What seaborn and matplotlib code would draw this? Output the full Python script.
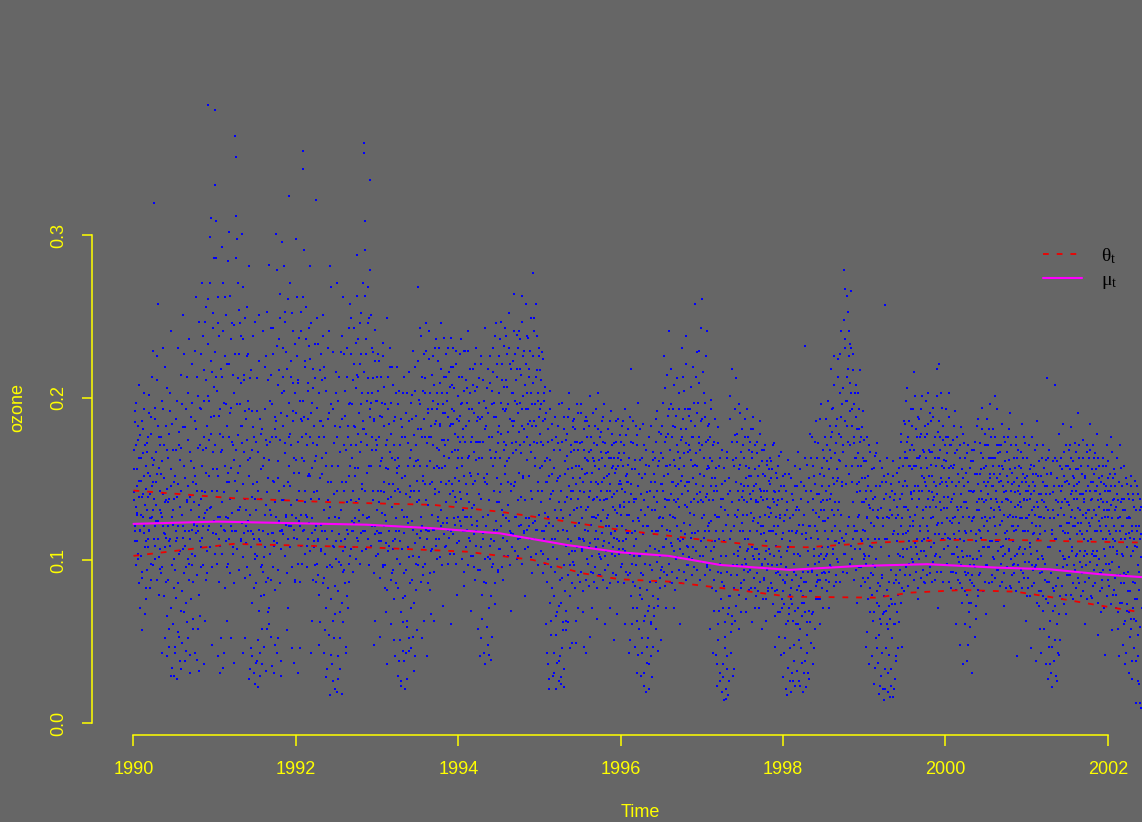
import numpy as np
import pandas as pd
import seaborn as sns
import matplotlib.pyplot as plt

sns.set_theme(style='ticks')
bg = '#666666'
yel = '#FFFF00'
plt.rcParams['font.family'] = ['Liberation Sans', 'DejaVu Sans']
plt.rcParams['mathtext.fontset'] = 'custom'
plt.rcParams['mathtext.rm'] = 'Liberation Serif'
plt.rcParams['mathtext.it'] = 'Liberation Serif'

# daily ozone readings, thousandths, one string per month
oz1990 = ["142 168 121 185 133 197 156 112 174 149 208 071", "118 163 139 057 181 127 152 193 108 171 144 076",
          "131 176 154 119 202 141 098 188 163 127 229 148", "320 162 109 187 134 211 153 258 124 176 095 143",
          "153 092 198 127 231 141 171 052 116 183 137 206", "041 136 178 058 109 192 146 241 034 127 168 101",
          "029 152 047 118 187 139 231 056 104 171 038 162", "143 033 196 121 251 068 158 109 182 044 137 213",
          "052 174 118 236 139 031 161 197 097 148 064 122", "186 043 147 262 121 213 058 169 134 032 194 108",
          "227 143 271 168 036 198 129 247 154 211 092 183", "380 261 174 299 132 223 188 048 243 156 207 286"]
oz1991 = ["377 331 309 213 156 262 041 189 238 127 178 052", "293 168 271 034 197 142 226 118 251 063 183 154",
          "284 148 302 191 052 236 129 173 214 108 245 162", "361 348 312 196 298 154 271 227 133 246 183 209",
          "301 172 268 043 214 138 249 187 121 226 162 198", "281 027 163 212 046 118 192 139 238 031 176 104",
          "024 173 038 212 143 051 251 119 029 187 156 096", "036 158 241 102 047 193 134 226 058 171 089 211",
          "282 061 173 214 128 035 196 149 243 112 181 048", "301 176 279 043 208 151 236 118 264 029 191 137",
          "296 213 281 146 247 172 122 228 057 189 261 158", "324 178 271 134 213 046 192 241 119 163 203 088"]
oz1992 = ["298 162 262 031 211 143 237 121 187 253 098 176", "352 341 291 188 223 136 256 171 109 204 152 243",
          "281 152 246 043 197 126 218 172 108 233 161 087", "322 171 249 091 203 138 062 186 122 227 153 211",
          "251 043 176 118 212 028 158 096 231 137 054 191", "281 017 148 268 036 109 193 052 172 127 021 216",
          "019 271 158 041 126 213 033 182 097 148 238 062", "262 143 086 204 047 168 119 231 183 071 152 196",
          "258 171 249 124 196 143 221 108 182 157 234 136", "263 288 178 213 131 246 167 196 227 144 271 186",
          "357 351 309 291 178 236 154 268 203 127 249 193", "334 251 168 203 137 228 048 186 242 121 174 213"]
oz1993 = ["198 143 227 112 176 053 161 213 129 188 097 234", "142 207 083 171 124 249 036 193 156 109 219 167",
          "178 061 133 219 147 094 186 041 162 203 118 154", "029 163 118 204 051 142 187 023 131 176 062 213",
          "038 152 021 191 127 059 172 108 044 216 139 163", "143 046 187 119 229 032 158 204 098 171 057 136",
          "268 162 199 137 243 118 181 052 213 152 091 227", "203 147 246 119 172 041 191 134 224 161 082 183",
          "176 214 128 198 063 157 231 144 186 109 203 169", "223 168 142 209 184 131 246 157 196 072 174 213",
          "191 158 227 136 203 174 119 216 149 183 061 237", "208 147 184 231 126 192 168 139 221 157 079 176"]
oz1994 = ["168 213 142 189 121 236 158 197 131 176 084 204", "229 183 147 206 127 241 164 193 112 218 152 069",
          "193 132 218 167 096 204 149 231 173 124 188 058", "163 212 041 187 138 226 064 173 117 198 151 243",
          "036 194 147 059 218 128 042 176 209 101 163 053", "204 158 231 119 188 073 246 167 136 213 094 179",
          "226 183 142 247 197 131 211 088 168 232 153 192", "193 238 161 207 134 179 252 118 221 147 069 186",
          "183 223 146 264 198 127 211 168 239 103 191 154", "241 171 218 139 263 193 152 226 117 181 208 078",
          "258 203 162 237 184 121 218 171 249 143 196 092", "277 226 186 249 158 213 119 238 172 198 143 231"]
oz1995 = ["178 217 136 196 158 228 104 171 203 129 187 061", "191 148 036 173 123 027 162 204 054 141 184 113",
          "029 157 043 131 188 021 149 068 172 118 038 196", "041 168 024 143 197 057 126 181 033 153 109 063",
          "164 118 188 062 146 203 097 171 138 049 157 182", "143 187 121 173 049 158 196 132 071 168 114 151",
          "172 133 196 107 156 068 181 142 119 163 043 188", "154 186 118 167 139 201 053 148 176 127 092 163",
          "138 172 113 158 193 126 064 147 181 104 162 137", "167 124 186 148 109 173 137 196 061 158 121 143",
          "152 181 128 163 071 147 192 116 171 139 108 158", "141 172 118 156 186 129 067 163 147 104 177 133"]
oz1996 = ["162 128 183 144 107 171 136 061 193 152 119 148", "117 159 043 136 188 092 147 218 061 172 124 103",
          "138 047 162 113 177 031 146 197 058 124 162 083", "029 151 043 121 184 023 137 066 168 106 037 142",
          "052 133 021 176 097 041 148 118 028 162 071 139", "148 107 173 058 136 192 118 044 161 127 089 178",
          "166 121 197 143 226 108 173 133 071 158 214 137", "178 137 241 159 118 196 148 086 183 127 208 162",
          "126 182 146 212 102 167 138 193 156 061 174 118", "231 152 187 113 204 166 134 238 172 097 148 193",
          "143 189 122 168 207 136 176 101 158 219 128 183", "258 166 213 141 191 118 172 229 153 103 186 137"]
oz1997 = ["261 171 136 203 152 118 188 226 141 096 174 158", "184 137 163 058 199 124 151 043 171 108 143 187",
          "042 146 023 127 172 061 113 158 031 133 092 168", "019 118 036 014 149 053 103 021 167 041 128 017",
          "026 201 143 043 118 218 061 162 104 033 177 128", "148 212 097 173 131 058 156 118 191 083 167 139",
          "128 171 094 146 187 113 158 068 136 176 107 152", "157 118 181 138 062 163 124 188 101 146 171 083",
          "136 166 107 152 123 071 144 178 116 139 058 161", "121 153 088 143 171 112 063 138 159 098 127 149",
          "147 104 161 129 083 156 118 172 136 047 142 109", "116 151 068 137 106 164 091 128 042 146 113 081"]
oz1998 = ["028 124 043 153 087 021 136 106 034 162 071 118", "046 112 019 141 073 026 128 098 038 158 061 117",
          "133 032 104 167 051 122 023 148 081 037 116 093", "031 146 068 232 022 113 159 043 097 136 027 178",
          "121 049 163 094 138 036 152 107 173 058 129 084", "118 163 076 141 103 187 061 136 157 092 124 168",
          "152 101 176 124 088 161 137 198 113 146 071 183", "163 218 131 179 104 194 147 226 121 172 087 156",
          "187 131 224 162 203 118 176 241 148 196 093 167", "279 236 267 198 158 213 183 253 127 226 171 209",
          "266 231 193 148 217 176 121 203 163 188 074 142", "203 158 181 128 217 143 096 176 151 119 192 136"]
oz1999 = ["161 118 143 047 176 126 089 152 036 134 109 167", "123 156 041 138 097 024 164 113 052 146 081 172",
          "037 131 018 146 064 108 029 157 043 121 014 138", "257 021 148 046 113 163 031 126 072 016 139 094",
          "033 128 016 152 061 118 027 141 088 041 133 104", "116 157 062 138 094 173 126 047 146 107 186 133",
          "149 184 117 163 206 131 176 098 158 121 193 142", "171 138 193 124 158 216 146 108 181 163 133 076",
          "143 187 121 164 106 178 152 201 131 167 087 148", "176 133 198 157 118 184 143 168 092 191 126 159",
          "152 188 127 171 139 103 163 146 218 122 179 071", "186 221 147 168 131 194 158 113 174 139 162 097"]
oz2000 = ["161 193 132 146 176 114 157 203 124 171 083 148", "138 174 116 159 192 127 146 061 168 133 102 153",
          "123 163 048 141 182 106 151 036 136 172 093 118", "117 154 038 132 171 074 143 103 059 161 124 091",
          "142 101 168 127 053 153 112 183 136 082 147 119", "131 172 114 156 194 138 096 163 121 148 178 067",
          "158 124 187 141 171 108 153 196 132 163 087 146", "146 181 127 163 201 138 116 171 151 094 158 133",
          "131 167 108 149 184 124 156 072 142 173 117 138", "152 118 176 137 106 162 128 191 143 083 154 121",
          "127 163 098 142 176 119 151 041 134 168 107 146", "141 108 167 126 184 153 092 137 172 118 148 063"]
oz2001 = ["126 152 083 143 171 111 138 046 159 123 097 148", "143 117 168 128 038 153 106 186 133 072 161 121",
          "116 152 043 137 101 171 126 058 146 088 133 162", "212 027 131 047 168 108 036 154 119 022 142 083",
          "038 146 208 113 029 161 097 043 136 178 121 051", "132 163 076 146 118 184 101 152 138 067 171 123",
          "149 117 168 134 091 156 127 182 108 143 161 076", "138 172 121 156 103 147 191 132 163 086 141 118",
          "123 158 096 141 174 113 136 061 152 129 104 167", "146 112 163 131 184 121 148 077 138 171 106 153",
          "131 166 103 143 118 178 137 054 158 124 092 148", "118 152 088 136 163 107 127 042 146 113 171 131"]
oz2002 = ["127 161 098 143 116 176 134 057 151 108 138 082", "112 146 071 133 163 104 126 041 148 118 091 157",
          "104 138 048 121 158 092 131 036 116 147 073 126", "093 127 031 114 152 064 118 027 106 141 046 133",
          "086 121 012 108 146 041 097 024 113 138 009 102"]

# the in-between days of each month
oz1990b = ["156 137 192 118 171 146 129 183 101 163 139 177", "149 128 186 093 166 141 117 203 134 158 083 172",
           "167 139 113 191 152 126 178 088 146 213 131 159", "138 194 121 167 148 226 113 183 157 102 171 131",
           "176 129 161 043 193 117 151 219 136 087 168 144", "121 163 047 138 203 113 029 156 184 131 061 148",
           "138 043 168 112 198 027 147 121 179 053 133 214", "169 128 049 182 114 227 038 151 096 193 136 062",
           "146 203 088 167 042 131 188 119 221 058 157 136", "152 229 117 181 039 143 201 127 247 066 171 138",
           "193 158 238 121 176 217 142 063 256 169 131 201", "233 198 152 271 178 311 143 216 167 252 124 189"]
oz1991b = ["228 171 286 143 204 152 246 113 193 031 167 218", "213 136 241 176 043 158 262 127 196 148 221 098",
           "176 221 138 263 157 194 118 246 171 037 203 149", "227 168 286 143 212 177 254 131 196 158 238 113",
           "183 236 147 211 167 052 192 131 256 174 118 227", "152 193 033 128 217 168 041 147 182 113 247 138",
           "131 037 192 148 022 167 113 223 043 138 178 058", "181 118 047 163 219 128 032 174 142 253 068 151",
           "162 198 131 243 053 176 117 227 148 031 188 136", "186 127 232 161 052 217 143 249 174 038 203 118",
           "183 231 137 204 166 253 128 189 218 148 071 176", "197 146 223 171 252 128 186 209 154 037 233 162"]
oz1992b = ["191 226 137 173 209 154 046 198 128 241 163 186", "198 262 161 219 143 236 178 127 209 187 153 232",
           "176 224 138 191 157 063 206 142 183 119 212 164", "194 143 233 113 176 048 217 151 186 106 163 238",
           "183 131 219 057 166 204 113 033 187 148 241 126", "133 196 042 158 118 228 026 141 183 067 203 112",
           "143 176 027 198 116 052 167 228 131 018 187 106", "171 227 113 189 148 043 213 136 176 098 243 158",
           "197 137 227 163 211 118 183 243 152 126 206 171", "214 157 236 191 138 221 173 252 147 203 181 118",
           "216 181 263 143 227 198 171 246 212 158 279 188", "197 158 231 176 212 143 187 063 223 168 198 131"]
oz1993b = ["171 204 136 223 158 189 143 117 197 163 226 148", "183 128 196 157 068 174 213 138 184 147 231 121",
           "139 197 163 112 208 051 171 143 188 126 219 157", "144 196 038 158 171 112 026 182 151 044 203 127",
           "117 176 043 141 203 027 158 123 186 052 146 197", "168 124 202 053 177 143 219 041 161 189 116 149",
           "181 223 143 196 158 238 127 176 204 149 063 187", "176 212 137 229 158 193 118 176 241 147 203 067",
           "193 148 226 171 119 208 184 141 236 158 193 127", "196 231 157 183 218 148 174 203 123 191 237 164",
           "171 213 147 198 126 231 188 163 207 141 184 219", "193 167 219 143 206 178 151 229 136 187 163 201"]
oz1994b = ["186 149 227 173 196 138 213 163 181 152 229 118", "173 211 141 197 163 229 136 186 154 203 173 127",
           "176 208 147 191 134 221 162 118 186 207 153 173", "197 141 173 052 221 163 188 127 211 043 181 148",
           "183 121 206 153 048 191 137 226 168 113 039 196", "176 216 143 197 163 238 124 188 151 221 172 136",
           "203 163 236 178 147 221 193 128 207 173 243 158", "211 171 227 148 196 231 163 187 143 218 172 203",
           "203 166 241 186 148 227 173 196 218 137 231 179", "197 236 166 214 183 247 151 201 173 229 137 193",
           "221 176 238 193 152 213 186 229 167 203 138 183", "209 173 241 196 163 258 183 217 148 203 188 226"]
oz1995b = ["193 157 211 173 143 224 186 118 198 161 207 148", "163 043 127 181 152 021 138 193 063 153 174 121",
           "143 031 168 113 054 176 126 037 151 183 026 136", "152 028 131 173 046 119 188 022 161 136 057 174",
           "139 178 113 156 193 128 046 167 143 106 186 151", "168 131 181 106 147 063 173 138 191 123 158 113",
           "143 191 126 173 148 113 168 047 153 186 131 162", "176 133 161 108 183 143 168 122 071 154 191 137",
           "161 127 183 148 118 171 139 203 128 156 091 176", "143 179 117 163 131 188 151 103 172 138 166 126",
           "138 167 153 121 186 143 163 117 157 178 133 051", "163 131 154 173 121 143 187 158 112 166 134 149"]
oz1996b = ["147 173 121 158 186 133 166 142 113 177 153 128", "148 181 128 163 051 141 173 117 156 071 186 136",
           "156 118 183 138 063 171 126 042 153 103 181 141", "131 163 052 116 171 031 153 128 019 159 121 047",
           "121 158 036 143 109 183 062 131 047 167 116 153", "131 163 118 187 143 072 158 126 179 103 147 051",
           "147 183 126 163 093 152 206 138 176 119 158 189", "153 193 128 168 141 218 109 176 148 193 137 071",
           "158 136 189 121 171 147 203 133 163 112 181 149", "176 141 213 158 123 193 146 181 221 133 167 108",
           "171 148 193 129 162 186 117 151 176 138 197 159", "183 147 228 158 197 136 176 209 142 168 243 126"]
oz1997b = ["187 146 216 163 128 197 173 139 241 156 183 121", "157 123 176 146 193 112 161 137 069 173 128 151",
           "157 118 036 143 182 051 127 163 026 138 103 147", "138 028 112 157 046 131 015 122 163 033 141 071",
           "151 113 187 056 136 173 097 029 158 121 193 063", "163 127 178 143 106 196 137 159 068 147 123 181",
           "143 118 163 137 176 098 151 128 193 113 146 168", "141 173 129 152 108 167 143 181 126 156 071 137",
           "147 118 173 136 101 158 127 186 143 121 168 097", "137 168 117 152 128 106 161 143 081 133 156 118",
           "132 163 118 151 097 138 171 121 143 066 154 127", "134 097 158 121 143 053 126 167 102 138 071 152"]
oz1998b = ["117 146 052 128 096 143 017 131 063 108 153 026", "126 083 151 031 118 137 048 104 146 023 131 091",
           "118 146 061 131 026 156 103 046 138 074 122 019", "128 087 163 038 117 143 054 106 031 151 121 062",
           "143 114 176 067 131 158 103 046 147 121 186 091", "141 113 172 127 088 153 131 196 108 146 071 137",
           "131 163 118 187 143 104 171 126 156 093 168 138", "141 176 118 193 151 128 208 136 166 112 183 149",
           "151 213 136 178 161 227 128 188 146 206 171 112", "248 186 231 147 263 198 173 218 153 241 192 233",
           "203 158 183 227 136 172 196 118 163 208 147 181", "166 127 193 148 173 113 158 182 136 163 104 174"]
oz1999b = ["151 103 138 161 127 056 146 113 171 132 068 143", "143 108 131 063 157 121 034 139 101 166 127 046",
           "126 054 113 161 023 132 091 148 021 126 068 152", "113 033 141 061 127 019 153 103 042 131 023 147",
           "143 052 116 161 021 137 073 126 038 154 112 046", "128 148 103 163 121 178 083 141 158 116 133 167",
           "163 133 198 146 173 118 158 186 127 168 141 108", "156 183 121 168 143 201 128 158 176 113 146 188",
           "163 138 176 118 157 193 143 126 168 151 113 183", "146 163 121 178 138 203 152 112 167 133 186 142",
           "167 137 194 148 116 176 158 133 201 141 163 123", "163 136 176 151 203 123 148 183 132 157 116 171"]
oz2000b = ["148 176 126 166 139 188 151 113 171 136 158 123", "157 126 183 141 113 166 146 092 176 131 153 118",
           "148 113 171 133 083 156 127 178 112 146 061 163", "136 166 103 148 048 127 157 088 143 118 168 031",
           "126 161 097 143 173 116 064 153 131 187 106 138", "153 118 166 143 126 181 108 157 136 171 127 146",
           "137 171 148 118 163 181 126 151 138 176 112 158", "163 131 153 176 121 143 193 136 166 112 148 171",
           "153 122 171 136 158 103 146 176 128 161 113 143", "138 167 127 148 181 113 156 136 171 121 147 097",
           "148 118 157 133 171 127 104 163 143 121 158 136", "126 157 133 148 118 163 138 176 107 151 126 143"]
oz2001b = ["137 163 118 146 128 156 108 141 176 131 153 116", "133 158 096 146 121 171 136 113 152 127 141 058",
           "141 127 163 103 148 078 136 157 118 141 036 153", "146 108 163 053 126 141 031 153 116 047 131 161",
           "126 163 051 137 113 026 151 128 042 146 106 158", "143 121 156 136 103 167 128 148 117 158 136 097",
           "136 158 123 147 171 113 141 163 131 152 121 146", "151 126 143 167 116 138 156 123 148 171 131 106",
           "141 116 153 128 163 138 106 151 126 143 171 118", "131 158 123 143 168 113 137 156 126 148 103 163",
           "143 118 156 128 146 106 163 133 151 121 141 068", "138 126 158 113 147 131 143 103 158 121 136 151"]
oz2002b = ["143 118 131 153 108 146 126 167 137 113 156 121", "131 153 118 141 106 137 058 148 127 171 113 136",
           "121 146 103 131 061 138 113 151 043 126 108 141", "117 138 053 126 103 146 038 121 137 071 113 149",
           "109 131 038 118 141 026 121 093 131 012 116 133"]

# readings in the band around the fitted curves
oz1990c = ["112 097 128 104 086 119", "103 089 121 067 112 094", "108 118 083 126 097 113", "101 124 088 113 079 107",
           "096 121 078 108 114 066", "088 112 071 097 122 083", "094 077 114 086 106 069", "081 107 092 118 074 101",
           "098 113 076 104 087 123", "103 091 118 079 112 096", "114 097 126 088 106 119", "121 108 133 096 117 104"]
oz1991c = ["116 098 127 087 109 121", "104 119 083 112 096 126", "113 092 121 104 086 118", "118 107 131 094 112 123",
           "102 117 089 111 096 124", "091 108 074 116 083 101", "086 103 069 112 078 097", "093 079 108 087 116 071",
           "104 088 117 096 109 082", "111 094 124 086 107 119", "116 103 127 092 113 121", "108 121 096 114 087 126"]
oz1992c = ["113 098 124 087 109 118", "119 104 128 096 113 123", "106 117 088 112 097 121", "098 112 079 107 118 086",
           "089 104 071 113 083 097", "076 096 063 108 084 101", "081 099 068 112 074 093", "094 108 078 116 087 103",
           "107 118 093 123 101 114", "112 124 098 117 106 128", "118 107 126 113 097 122", "109 121 092 116 103 118"]
oz1993c = ["104 117 089 112 096 121", "097 111 082 106 118 088", "092 107 076 113 086 101", "083 098 068 107 077 092",
           "078 094 063 102 086 071", "088 103 074 111 082 097", "102 114 087 121 096 108", "098 113 086 118 092 106",
           "107 119 093 113 101 124", "113 102 121 097 116 108", "109 123 098 114 104 118", "116 104 122 098 111 127"]
oz1994c = ["112 124 101 118 093 127", "108 119 097 114 103 122", "103 116 088 109 121 094", "094 108 079 113 087 101",
           "086 102 071 109 078 096", "098 112 086 119 093 107", "107 121 096 114 103 126", "112 103 124 097 117 108",
           "116 106 127 101 113 121", "114 122 098 118 107 126", "119 108 126 113 102 123", "113 124 104 119 097 128"]
oz1995c = ["106 118 092 113 098 121", "087 101 074 096 083 108", "078 093 066 101 072 088", "074 089 062 097 081 069",
           "091 104 078 112 086 099", "097 083 108 091 113 087", "093 106 081 112 088 101", "098 084 111 093 103 087",
           "096 108 083 113 091 102", "101 088 112 094 106 083", "097 111 086 104 092 114", "103 091 113 087 107 096"]
oz1996c = ["098 112 086 106 093 117", "091 104 078 098 087 109", "084 097 071 103 079 092", "076 091 063 098 082 069",
           "072 087 061 094 078 066", "087 099 076 106 083 094", "096 108 084 113 091 103", "098 087 111 093 106 082",
           "101 089 113 094 107 086", "104 093 116 088 109 097", "102 114 091 108 096 117", "106 094 118 088 112 099"]
oz1997c = ["103 114 091 108 097 118", "094 106 083 101 088 112", "081 093 069 098 076 087", "071 084 062 093 067 078",
           "078 091 066 097 083 072", "091 103 079 108 086 097", "088 101 076 106 093 082", "094 083 103 089 107 078",
           "092 081 104 087 098 076", "089 101 076 094 083 107", "086 097 073 103 081 092", "082 093 068 098 076 088"]
oz1998c = ["073 086 061 091 067 079", "076 088 063 093 069 082", "071 084 058 089 066 078", "074 087 062 093 069 081",
           "081 093 068 098 076 087", "088 099 076 104 083 093", "092 103 081 108 087 097", "096 107 084 112 091 101",
           "099 111 087 114 093 104", "104 116 092 121 098 109", "101 113 088 107 094 118", "096 107 084 112 089 101"]
oz1999c = ["087 098 076 103 083 092", "079 091 068 096 074 086", "072 084 061 089 067 078", "069 082 058 087 064 076",
           "073 086 061 091 068 079", "086 097 074 102 081 091", "096 107 084 112 091 101", "099 088 111 093 104 083",
           "101 089 112 094 106 086", "103 091 114 096 108 087", "099 111 088 104 093 116", "102 093 113 087 107 097"]
oz2000c = ["098 109 087 113 093 104", "093 104 082 108 088 099", "086 097 074 102 081 091", "079 092 068 097 074 086",
           "084 096 072 101 078 091", "092 103 081 108 087 097", "097 108 086 112 091 102", "101 089 112 094 106 084",
           "098 087 109 092 104 083", "096 107 084 101 091 112", "092 103 081 097 087 108", "094 083 104 089 099 078"]
oz2001c = ["089 099 078 104 084 094", "086 097 074 101 081 092", "081 093 069 098 076 087", "074 087 063 092 069 081",
           "072 084 061 089 067 078", "084 096 073 101 079 091", "091 102 079 106 086 097", "094 083 104 089 099 078",
           "092 081 103 087 097 076", "089 099 078 104 084 094", "086 097 074 101 081 092", "083 094 071 098 078 088"]
oz2002c = ["084 094 073 099 079 089", "079 091 068 096 074 086", "074 086 063 091 069 081", "068 081 058 087 064 076",
           "063 076 054 082 059 071"]

years = [1990, 1991, 1992, 1993, 1994, 1995, 1996, 1997, 1998, 1999, 2000, 2001, 2002]
ozone_a = [oz1990, oz1991, oz1992, oz1993, oz1994, oz1995, oz1996, oz1997, oz1998, oz1999, oz2000, oz2001, oz2002]
ozone_b = [oz1990b, oz1991b, oz1992b, oz1993b, oz1994b, oz1995b, oz1996b, oz1997b, oz1998b, oz1999b,
           oz2000b, oz2001b, oz2002b]
ozone_c = [oz1990c, oz1991c, oz1992c, oz1993c, oz1994c, oz1995c, oz1996c, oz1997c, oz1998c, oz1999c,
           oz2000c, oz2001c, oz2002c]

# fitted curves (theta band and mu)
up_t = [1990.0, 1991.23, 1992.46, 1993.69, 1994.51, 1995.34, 1995.99, 1997.03, 1997.88, 1998.29,
        1999.15, 2000.01, 2000.86, 2001.71, 2002.43]
up_v = [0.1430, 0.1383, 0.1358, 0.1342, 0.1300, 0.1239, 0.1188, 0.1126, 0.1085, 0.1081,
        0.1110, 0.1126, 0.1126, 0.1116, 0.1110]
mu_t = [1990.0, 1991.03, 1992.87, 1993.69, 1994.51, 1995.34, 1995.99, 1996.59, 1997.23, 1998.08,
        1998.93, 1999.78, 2000.63, 2001.27, 2001.91, 2002.43]
mu_v = [0.1225, 0.1239, 0.1220, 0.1198, 0.1167, 0.1095, 0.1050, 0.1028, 0.0972, 0.0942,
        0.0966, 0.0977, 0.0956, 0.0946, 0.0915, 0.0897]
lo_t = [1990.0, 1991.23, 1992.87, 1994.10, 1994.92, 1995.53, 1995.99, 1996.59, 1997.44, 1998.08,
        1999.15, 1999.57, 2000.21, 2000.86, 2001.27, 2001.79, 2002.43]
lo_v = [0.1028, 0.1102, 0.1081, 0.1054, 0.1003, 0.0921, 0.0884, 0.0870, 0.0818, 0.0777,
        0.0771, 0.0802, 0.0818, 0.0808, 0.0777, 0.0732, 0.0679]

rows = []
for yr, ma, mb, mc in zip(years, ozone_a, ozone_b, ozone_c):
    for mo in range(len(ma)):
        va = [int(v) / 1000 for v in ma[mo].split()]
        vb = [int(v) / 1000 for v in mb[mo].split()]
        vc = [int(v) / 1000 for v in mc[mo].split()]
        vals = []
        for i in range(len(va)):
            vals += [va[i], vb[i]]
            if i % 2 == 1:
                vals.append(vc[i // 2])
        n = len(vals)
        for k, v in enumerate(vals):
            rows.append((yr + (mo + (k + 0.5) / n) / 12, v))
df = pd.DataFrame(rows, columns=['time', 'ozone'])

fig = plt.figure(figsize=(11.42, 8.22), dpi=100, facecolor=bg)
ax = fig.add_axes([92 / 1142, 1 - 735 / 822, 1 - 92 / 1142, (735 - 81) / 822])
ax.set_facecolor(bg)

sns.scatterplot(data=df, x='time', y='ozone', ax=ax, color='#0000FF', marker='s',
                s=4.5, linewidth=0, legend=False)
sns.lineplot(x=up_t, y=up_v, ax=ax, color='#F00000', lw=1.3, label=r'$\theta_t$')
sns.lineplot(x=lo_t, y=lo_v, ax=ax, color='#F00000', lw=1.3)
sns.lineplot(x=mu_t, y=mu_v, ax=ax, color='#FF00FF', lw=1.5, label=r'$\mu_t$')
ax.lines[0].set_dashes((3.2, 4.4))
ax.lines[1].set_dashes((3.2, 4.4))

ax.set_xlim(1989.489, 2002.42)
ax.set_ylim(-0.0074, 0.395)
ax.set_xticks([1990, 1992, 1994, 1996, 1998, 2000, 2002])
ax.set_yticks([0.0, 0.1, 0.2, 0.3])
ax.set_yticklabels(['0.0', '0.1', '0.2', '0.3'], rotation=90, va='center')
for s in ['top', 'right']:
    ax.spines[s].set_visible(False)
ax.spines['left'].set_bounds(0, 0.3)
ax.spines['bottom'].set_bounds(1990, 2002)
for s in ['left', 'bottom']:
    ax.spines[s].set_color(yel)
    ax.spines[s].set_linewidth(1.1)
ax.tick_params(axis='x', colors=yel, labelcolor=yel, length=8, width=1.1, pad=11, labelsize=13)
ax.tick_params(axis='y', colors=yel, labelcolor=yel, length=7.5, width=1.1, pad=10, labelsize=13)
ax.set_xlabel('')
ax.set_ylabel('')
fig.text(18 / 1142, 1 - 407 / 822, 'ozone', rotation=90, ha='center', va='center', color=yel, fontsize=13)
fig.text(640 / 1142, 1 - 812 / 822, 'Time', ha='center', va='center', color=yel, fontsize=13)

h, l = ax.get_legend_handles_labels()
ax.legend(h, l, loc='upper left', bbox_to_anchor=(1043 / 1142, 1 - 246 / 822),
          bbox_transform=fig.transFigure, frameon=False, borderpad=0, borderaxespad=0,
          handlelength=2.0, handletextpad=1.0, labelspacing=0.3, fontsize=14, labelcolor='black')

fig.savefig('out.png', dpi=100, facecolor=bg)
